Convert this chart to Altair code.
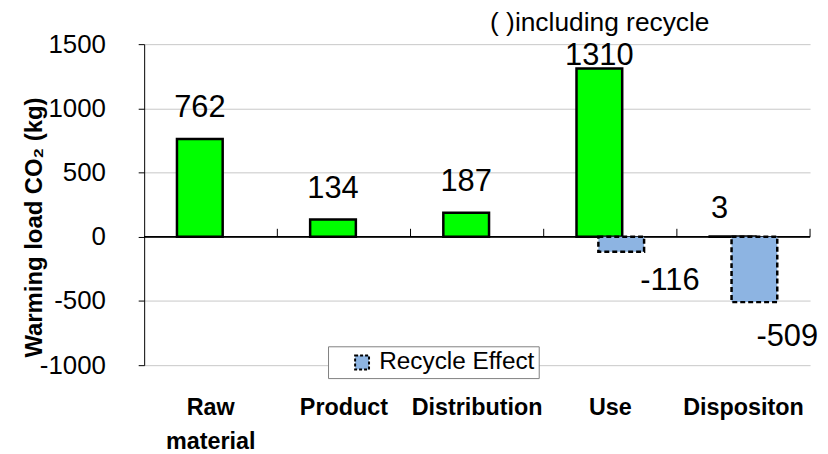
import altair as alt
import pandas as pd

# ---- data ----
categories = ["Raw material", "Product", "Distribution", "Use", "Dispositon"]
direct_load = [762, 134, 187, 1310, 3]
recycle_cats = ["Use", "Dispositon"]
recycle_effect = [-116, -509]
series_name = "Recycle Effect"
y_ticks = [-1000, -500, 0, 500, 1000, 1500]
note_text = "( )including recycle"

FONT = "Liberation Sans"

green_df = pd.DataFrame({"cat": categories, "v": direct_load})
blue_df = pd.DataFrame({"cat": recycle_cats, "v": recycle_effect,
                        "series": [series_name] * len(recycle_cats)})

xsc = alt.Scale(domain=categories, paddingInner=0, paddingOuter=0)
ysc = alt.Scale(domain=[-1000, 1500], nice=False)

bottom_axis = alt.Axis(
    orient="bottom", title=None, labelAngle=0, labelFont=FONT,
    labelFontWeight="bold", labelFontSize=23.5, labelPadding=31,
    labelLineHeight=34, labelColor="black", ticks=False, domain=False,
    grid=False,
    labelExpr="datum.value == 'Raw material' ? ['Raw', 'material'] : datum.value",
)
y_axis = alt.Axis(
    values=y_ticks, title="Warming load CO\u2082 (kg)",
    labelExpr="'' + datum.value",
    titleX=-110, titleY=184, titleAlign="center", titleBaseline="middle",
    titleAngle=-90,
)

x_plain = alt.X("cat:N", scale=xsc, sort=categories)
y_plain = alt.Y("v:Q", scale=ysc)

green = alt.Chart(green_df).mark_bar(
    size=46, xOffset=-11, fill="#00FF00", stroke="black", strokeWidth=2.5
).encode(
    x=alt.X("cat:N", scale=xsc, sort=categories, axis=bottom_axis),
    y=alt.Y("v:Q", scale=ysc, axis=y_axis),
)

# zero line (category axis crossing at 0) and its tick marks at band edges
zero_line = alt.Chart(green_df).mark_rule(color="black", strokeWidth=1.2).encode(
    y=alt.YDatum(0),
)
zero_ticks = alt.Chart(green_df).mark_rule(color="black", strokeWidth=1).encode(
    x=alt.X("cat:N", scale=xsc, sort=categories, bandPosition=1),
    y=alt.YDatum(0),
    y2=alt.Y2Datum(62),
)

blue = alt.Chart(blue_df).mark_bar(
    size=46, xOffset=11, stroke="black", strokeWidth=2.5, strokeDash=[5, 3]
).encode(
    x=x_plain,
    y=y_plain,
    color=alt.Color(
        "series:N",
        scale=alt.Scale(domain=[series_name], range=["#8DB4E2"]),
        legend=alt.Legend(
            title=None, orient="none", legendX=185, legendY=304,
            fillColor="white", strokeColor="#808080", padding=4,
            symbolType="square", symbolSize=196, symbolOffset=18,
            symbolStrokeColor="black", symbolStrokeWidth=2,
            symbolDash=[3, 2], labelFont=FONT, labelFontSize=24.5,
            labelColor="black", labelOffset=5,
            labelExpr="datum.label + '   '",
        ),
    ),
)


def labels(df, cats, dx, dy, xoff):
    return alt.Chart(df).transform_filter(
        alt.FieldOneOfPredicate(field="cat", oneOf=cats)
    ).transform_calculate(
        lbl="'' + datum.v"
    ).mark_text(
        font=FONT, fontSize=31, color="black", baseline="alphabetic",
        align="center", dx=dx + xoff, dy=dy,
    ).encode(
        x=x_plain,
        y=y_plain,
        text="lbl:N",
    )


lab_main = labels(green_df, ["Raw material", "Product", "Distribution"], 0, -22, -11)
lab_use = labels(green_df, ["Use"], 0, -4, -11)
lab_disp = labels(green_df, ["Dispositon"], -13, -18, -11)
lab_neg_use = labels(blue_df, ["Use"], 49, 39, 11)
lab_neg_disp = labels(blue_df, ["Dispositon"], 33, 44, 11)

note = alt.Chart(pd.DataFrame({"t": [note_text]})).mark_text(
    font=FONT, fontSize=26.5, color="black", align="left", baseline="alphabetic"
).encode(x=alt.value(348), y=alt.value(-13), text="t:N")

chart = alt.layer(
    green, zero_line, zero_ticks, blue, lab_main, lab_use, lab_disp,
    lab_neg_use, lab_neg_disp, note
).properties(
    width=670, height=323,
    autosize=alt.AutoSizeParams(type="none"),
    padding={"left": 137, "top": 35, "right": 10, "bottom": 88},
    background="white",
).configure_view(stroke=None).configure_axisY(
    titleFont=FONT, titleFontSize=24, titleFontWeight="bold",
    titleColor="black", labelFont=FONT, labelFontSize=26, labelColor="black",
    labelPadding=33, tickSize=6, tickColor="black", domainColor="black",
    gridColor="#c8c8c8", gridWidth=1, grid=True,
)

chart.save("out.html", embed_options={"renderer": "svg", "actions": False})
